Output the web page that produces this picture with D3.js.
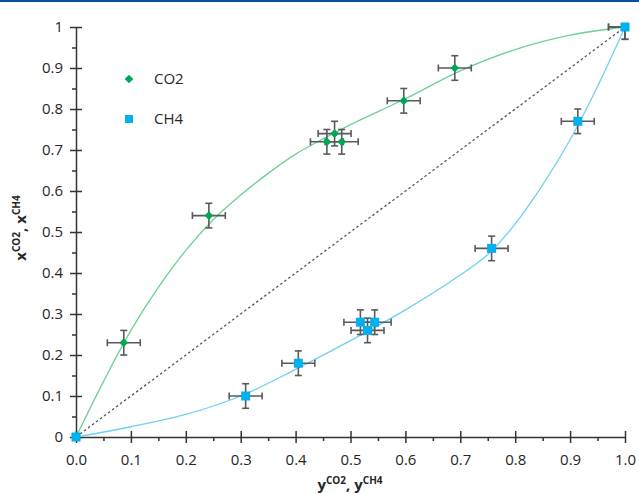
<!DOCTYPE html>
<html>
<head>
<meta charset="utf-8">
<style>
body { margin: 0; background: #fff; }
text { font-family: "Open Sans", "Liberation Sans", sans-serif; fill: #262626; }
.axis path, .axis line { stroke: #333; stroke-width: 1.5px; }
.title { font-weight: bold; font-size: 15px; }
</style>
</head>
<body>
<svg width="639" height="494"></svg>
<script src="https://cdn.jsdelivr.net/npm/d3@7"></script>
<script>
// measured points (vapour fraction y, liquid fraction x), error +-0.03 on both
var co2X = [0, 0.087, 0.242, 0.457, 0.471, 0.484, 0.597, 0.690, 1.0];
var co2Y = [0, 0.23, 0.54, 0.72, 0.74, 0.72, 0.82, 0.90, 1.0];
var ch4X = [0, 0.309, 0.405, 0.518, 0.531, 0.544, 0.757, 0.914, 1.0];
var ch4Y = [0, 0.10, 0.18, 0.28, 0.26, 0.28, 0.46, 0.77, 1.0];
var errX = 0.03, errY = 0.03;

// fitted curves
var co2FitX = [0, 0.05, 0.1, 0.15, 0.2, 0.25, 0.3, 0.35, 0.4, 0.45, 0.5, 0.6, 0.7, 0.8, 0.9, 1.0];
var co2FitY = [0, 0.135, 0.26, 0.365, 0.455, 0.53, 0.59, 0.643, 0.69, 0.727, 0.762, 0.825, 0.893, 0.945, 0.98, 1.0];
var ch4FitX = [0, 0.1, 0.2, 0.3, 0.4, 0.5, 0.6, 0.7, 0.75, 0.8, 0.85, 0.9, 0.95, 1.0];
var ch4FitY = [0, 0.025, 0.055, 0.10, 0.165, 0.235, 0.31, 0.395, 0.445, 0.52, 0.615, 0.725, 0.855, 1.0];

var xTicks = [0, 0.1, 0.2, 0.3, 0.4, 0.5, 0.6, 0.7, 0.8, 0.9, 1.0];
var yTicks = [0, 0.1, 0.2, 0.3, 0.4, 0.5, 0.6, 0.7, 0.8, 0.9, 1];
var minorTicks = [0.05, 0.15, 0.25, 0.35, 0.45, 0.55, 0.65, 0.75, 0.85, 0.95];

var svg = d3.select("svg");

svg.append("rect").attr("x", 0).attr("y", 0).attr("width", 639).attr("height", 2).attr("fill", "#0b4f9c");

var x = d3.scaleLinear().domain([0, 1]).range([76, 625]);
var y = d3.scaleLinear().domain([0, 1]).range([437, 27]);

// axes
var xAxis = svg.append("g").attr("class", "axis").attr("transform", "translate(0,437)")
  .call(d3.axisBottom(x).tickValues(xTicks).tickSize(6).tickSizeOuter(0).tickFormat(d3.format(".1f")));
xAxis.selectAll(".tick line").attr("y1", -6);
xAxis.selectAll("text").attr("font-size", 15).attr("dy", "1.25em");
svg.append("g").attr("class", "axis").attr("transform", "translate(0,437)")
  .call(d3.axisBottom(x).tickValues(minorTicks).tickSize(4).tickFormat(""))
  .select(".domain").remove();

var yAxis = svg.append("g").attr("class", "axis").attr("transform", "translate(76,0)")
  .call(d3.axisLeft(y).tickValues(yTicks).tickSize(6).tickSizeOuter(0).tickFormat(d3.format("")));
yAxis.selectAll(".tick line").attr("x1", 6);
yAxis.selectAll("text").attr("font-size", 15).attr("x", -13);
svg.append("g").attr("class", "axis").attr("transform", "translate(76,0)")
  .call(d3.axisLeft(y).tickValues(minorTicks).tickSize(4).tickFormat(""))
  .select(".domain").remove();

// axis titles
var yt = svg.append("text").attr("class", "title").attr("text-anchor", "middle")
  .attr("transform", "translate(26,228) rotate(-90)");
yt.append("tspan").text("x");
yt.append("tspan").attr("font-size", 10).attr("dy", -6).text("CO2");
yt.append("tspan").attr("dy", 6).text(", x");
yt.append("tspan").attr("font-size", 10).attr("dy", -6).text("CH4");

var xt = svg.append("text").attr("class", "title").attr("text-anchor", "middle")
  .attr("x", 350).attr("y", 490);
xt.append("tspan").text("y");
xt.append("tspan").attr("font-size", 10).attr("dy", -6).text("CO2");
xt.append("tspan").attr("dy", 6).text(", y");
xt.append("tspan").attr("font-size", 10).attr("dy", -6).text("CH4");

// fit curves
var line = d3.line().x(function(d) { return x(d[0]); }).y(function(d) { return y(d[1]); })
  .curve(d3.curveCatmullRom.alpha(0.5));
svg.append("path").attr("d", line(d3.zip(co2FitX, co2FitY)))
  .attr("fill", "none").attr("stroke", "#6dd195").attr("stroke-width", 1.3);
svg.append("path").attr("d", line(d3.zip(ch4FitX, ch4FitY)))
  .attr("fill", "none").attr("stroke", "#6fd0f4").attr("stroke-width", 1.3);

// diagonal
svg.append("line").attr("x1", x(0)).attr("y1", y(0)).attr("x2", x(1)).attr("y2", y(1))
  .attr("stroke", "#555").attr("stroke-width", 1.3).attr("stroke-dasharray", "2.5,2.5");

// error bars
function errorBars(xs, ys) {
  var g = svg.append("g").attr("stroke", "#595959").attr("stroke-width", 1.6);
  xs.forEach(function(xv, i) {
    if (xv === 0) return;
    var yv = ys[i], c = 3.5;
    g.append("line").attr("x1", x(xv - errX)).attr("x2", x(Math.min(xv + errX, 1))).attr("y1", y(yv)).attr("y2", y(yv));
    g.append("line").attr("x1", x(xv)).attr("x2", x(xv)).attr("y1", y(yv - errY)).attr("y2", y(Math.min(yv + errY, 1)));
    g.append("line").attr("x1", x(xv - errX)).attr("x2", x(xv - errX)).attr("y1", y(yv) - c).attr("y2", y(yv) + c);
    if (xv + errX <= 1) g.append("line").attr("x1", x(xv + errX)).attr("x2", x(xv + errX)).attr("y1", y(yv) - c).attr("y2", y(yv) + c);
    g.append("line").attr("x1", x(xv) - c).attr("x2", x(xv) + c).attr("y1", y(yv - errY)).attr("y2", y(yv - errY));
    if (yv + errY <= 1) g.append("line").attr("x1", x(xv) - c).attr("x2", x(xv) + c).attr("y1", y(yv + errY)).attr("y2", y(yv + errY));
  });
}
errorBars(co2X, co2Y);
errorBars(ch4X, ch4Y);

// markers
var diamond = d3.symbol().type(d3.symbolDiamond2).size(48);
svg.append("g").selectAll("path").data(d3.zip(co2X, co2Y)).enter().append("path")
  .attr("d", diamond).attr("fill", "#00a651")
  .attr("transform", function(d) { return "translate(" + x(d[0]) + "," + y(d[1]) + ")"; });
svg.append("g").selectAll("rect").data(d3.zip(ch4X, ch4Y)).enter().append("rect")
  .attr("x", function(d) { return x(d[0]) - 4.5; }).attr("y", function(d) { return y(d[1]) - 4.5; })
  .attr("width", 9).attr("height", 9).attr("fill", "#00b0f0");

// legend
svg.append("path").attr("d", diamond).attr("fill", "#00a651").attr("transform", "translate(129,79)");
svg.append("text").attr("x", 154).attr("y", 79).attr("dy", "0.35em").attr("font-size", 15).text("CO2");
svg.append("rect").attr("x", 125).attr("y", 115).attr("width", 8).attr("height", 8).attr("fill", "#00b0f0");
svg.append("text").attr("x", 154).attr("y", 119).attr("dy", "0.35em").attr("font-size", 15).text("CH4");
</script>
</body>
</html>
